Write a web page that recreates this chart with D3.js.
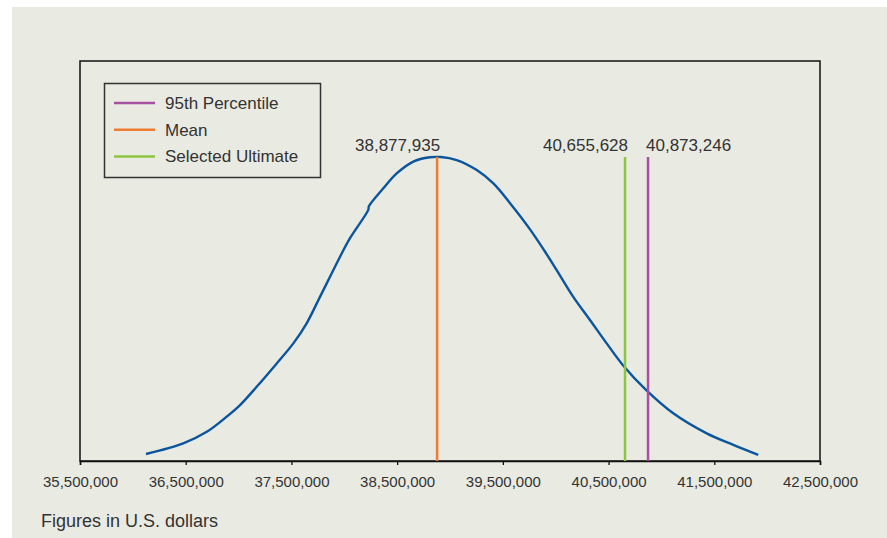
<!DOCTYPE html>
<html>
<head>
<meta charset="utf-8">
<script src="https://cdn.jsdelivr.net/npm/d3@7"></script>
<style>
  html, body { margin: 0; padding: 0; background: #ffffff; }
  svg { display: block; font-family: "Liberation Sans", Arial, sans-serif; }
</style>
</head>
<body>
<div id="chart"></div>
<script>
// simulated distribution of ultimate losses (relative frequency, peak = 1)
var curveX = [36124000, 36477000, 36699000, 36888000, 37014000, 37171000, 37361000,
  37518000, 37644000, 37770000, 37865000, 37960000, 38054000, 38227000, 38233000,
  38369000, 38496000, 38653000, 38811000, 38913000, 39063000, 39253000, 39410000,
  39568000, 39757000, 39915000, 40009000, 40166000, 40324000, 40482000, 40634000,
  40854000, 41112000, 41428000, 41680000, 41916000];
var curveY = [0.023, 0.058, 0.096, 0.146, 0.184, 0.244, 0.321,
  0.387, 0.453, 0.540, 0.606, 0.672, 0.733, 0.826, 0.838,
  0.897, 0.946, 0.985, 0.999, 1.000, 0.990, 0.957, 0.913,
  0.848, 0.762, 0.680, 0.628, 0.540, 0.464, 0.387, 0.316,
  0.234, 0.157, 0.091, 0.053, 0.020];

// marker lines
var markerNames  = ["95th Percentile", "Mean", "Selected Ultimate"];
var markerValues = [40873246, 38877935, 40655628];
var markerColors = ["#a6519f", "#f07b33", "#8cc63f"];
var labelAnchor  = ["start", "end", "end"];

var tickValues = [35500000, 36500000, 37500000, 38500000, 39500000, 40500000, 41500000, 42500000];

var W = 887, H = 538;
var margin = {left: 80, right: 67, top: 61, bottom: 77};

var svg = d3.select("#chart").append("svg")
  .attr("width", W).attr("height", H);

// panel background
svg.append("rect")
  .attr("x", 12).attr("y", 7)
  .attr("width", W - 12).attr("height", H - 7)
  .attr("fill", "#e9eae2");

var x = d3.scaleLinear()
  .domain([35500000, 42500000])
  .range([margin.left, W - margin.right]);
var y = d3.scaleLinear()
  .domain([0, 1])
  .range([H - margin.bottom, 157]);

// plot frame
svg.append("rect")
  .attr("x", margin.left).attr("y", margin.top)
  .attr("width", W - margin.right - margin.left)
  .attr("height", H - margin.bottom - margin.top)
  .attr("fill", "none")
  .attr("stroke", "#111")
  .attr("stroke-width", 1.5);

// x axis
var xAxis = svg.append("g")
  .attr("transform", "translate(0," + (H - margin.bottom) + ")")
  .call(d3.axisBottom(x).tickValues(tickValues).tickSize(4).tickPadding(11)
    .tickFormat(d3.format(",")));
xAxis.select(".domain").attr("stroke", "#111").attr("stroke-width", 1.5);
xAxis.selectAll(".tick line").attr("stroke", "#111").attr("stroke-width", 1.3);
xAxis.selectAll(".tick text")
  .attr("fill", "#333")
  .style("font-size", "15px");

// distribution curve
var pts = curveX.map(function(d, i) { return [d, curveY[i]]; });
var line = d3.line()
  .x(function(d) { return x(d[0]); })
  .y(function(d) { return y(d[1]); })
  .curve(d3.curveCatmullRom.alpha(0.5));

svg.append("path")
  .datum(pts)
  .attr("d", line)
  .attr("fill", "none")
  .attr("stroke", "#0a559c")
  .attr("stroke-width", 2.4);

// vertical marker lines + value labels
markerValues.forEach(function(v, i) {
  svg.append("line")
    .attr("x1", x(v)).attr("x2", x(v))
    .attr("y1", y(1)).attr("y2", y(0))
    .attr("stroke", markerColors[i])
    .attr("stroke-width", 2.5);
  svg.append("text")
    .attr("x", x(v) + (labelAnchor[i] === "start" ? -2 : 3))
    .attr("y", 151)
    .attr("text-anchor", labelAnchor[i])
    .attr("fill", "#333")
    .style("font-size", "17px")
    .text(d3.format(",")(v));
});

// legend
var legend = svg.append("g");
legend.append("rect")
  .attr("x", 104.5).attr("y", 83.5)
  .attr("width", 216).attr("height", 94)
  .attr("fill", "none")
  .attr("stroke", "#333")
  .attr("stroke-width", 1.5);

markerNames.forEach(function(name, i) {
  var ly = 103 + i * 26.7;
  legend.append("line")
    .attr("x1", 114).attr("x2", 155)
    .attr("y1", ly).attr("y2", ly)
    .attr("stroke", markerColors[i])
    .attr("stroke-width", 2.5);
  legend.append("text")
    .attr("x", 165).attr("y", ly + 6)
    .attr("fill", "#333")
    .style("font-size", "17px")
    .text(name);
});

// note
svg.append("text")
  .attr("x", 41).attr("y", 527)
  .attr("fill", "#333")
  .style("font-size", "18px")
  .text("Figures in U.S. dollars");
</script>
</body>
</html>
